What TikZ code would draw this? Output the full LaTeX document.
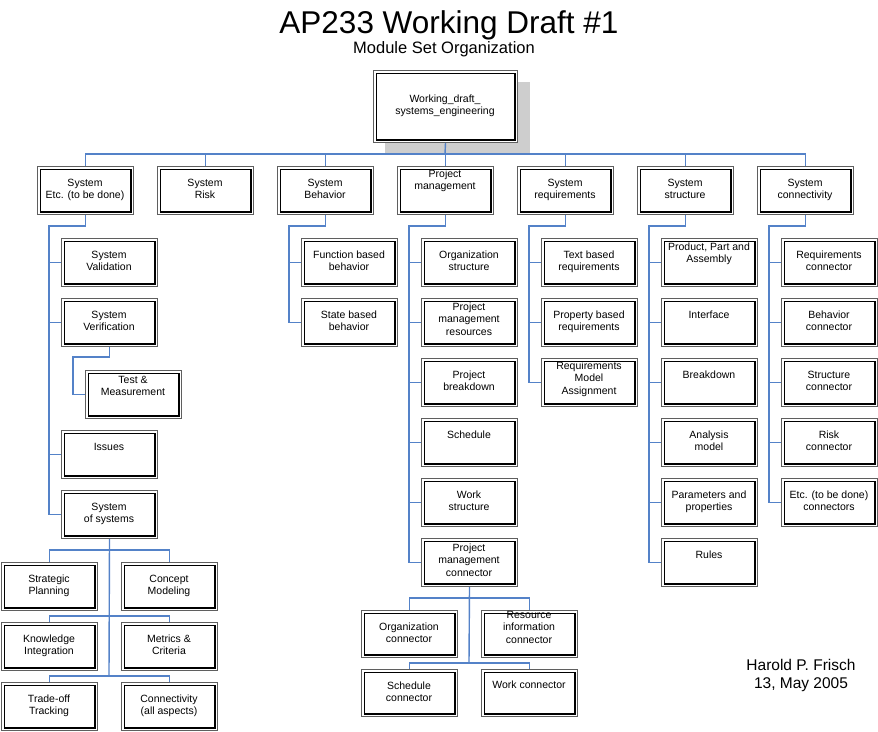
\documentclass[tikz,border=0pt]{standalone}
\usepackage{fontspec}
\setmainfont{Liberation Sans}
\definecolor{linkblue}{RGB}{84,130,200}
\definecolor{boxgray}{RGB}{95,95,95}
\definecolor{shadowgray}{RGB}{206,206,206}
\newcommand\mybox[5][20]{%
  \node[bx] (#2) at (#3,#4) {};
  \node[lbl] (#2t) at ({#3+48},{#4+#1-8.5}) {\rule{0pt}{8.5pt}#5};}
\begin{document}
\begin{tikzpicture}[x=1pt,y=-1pt,
  conn/.style={draw=linkblue,line width=1.4pt},
  bx/.style={rectangle, draw=boxgray, fill=white, line width=1pt,
    minimum width=96pt, minimum height=48pt, anchor=north west, inner sep=0pt,
    path picture={\draw[black,line width=1.2pt]
      ([shift={(2.6pt,-2.6pt)}]path picture bounding box.north west) rectangle
      ([shift={(-2.6pt,2.6pt)}]path picture bounding box.south east);}},
  lbl/.style={anchor=north, align=center, inner sep=0pt,
    font=\fontsize{10.5}{12.6}\selectfont}]
\useasboundingbox (0,0) rectangle (878,731);

% titles
\node[font=\fontsize{31.5}{35}\selectfont, anchor=base] (title) at (449,33) {AP233 Working Draft \#1};
\node[font=\fontsize{16.5}{19}\selectfont, anchor=base] (subtitle) at (444,53) {Module Set Organization};
\node[font=\fontsize{15.5}{18}\selectfont, anchor=base, align=center] (author) at (801,688) {Harold P. Frisch\\13, May 2005};

% root
\fill[shadowgray] (385,82) rectangle (530,153);
\node[bx, minimum width=144pt, minimum height=72pt] (root) at (373,70) {};
\node[lbl] (roott) at (445,93.5) {\rule{0pt}{8.5pt}Working\_draft\_\\systems\_engineering};

% top level
\mybox{t1}{37}{166}{System\\Etc. (to be done)}
\mybox{t2}{157}{166}{System\\Risk}
\mybox{t3}{277}{166}{System\\Behavior}
\mybox[11]{t4}{397}{166}{Project\\management}
\mybox{t5}{517}{166}{System\\requirements}
\mybox{t6}{637}{166}{System\\structure}
\mybox{t7}{757}{166}{System\\connectivity}

% System Etc. children
\mybox{val}{61}{238}{System\\Validation}
\mybox{ver}{61}{298}{System\\Verification}
\mybox[13]{test}{85}{370}{Test \&\\Measurement}
\mybox{iss}{61}{430}{Issues}
\mybox{sos}{61}{490}{System\\of systems}
\mybox{sp}{1}{562}{Strategic\\Planning}
\mybox{cm}{121}{562}{Concept\\Modeling}
\mybox{ki}{1}{622}{Knowledge\\Integration}
\mybox{mc}{121}{622}{Metrics \&\\Criteria}
\mybox{to}{1}{682}{Trade-off\\Tracking}
\mybox{ca}{121}{682}{Connectivity\\(all aspects)}

% Behavior children
\mybox{fb}{301}{238}{Function based\\behavior}
\mybox{sb}{301}{298}{State based\\behavior}

% Project management children
\mybox{os}{421}{238}{Organization\\structure}
\mybox[12]{pmr}{421}{298}{Project\\management\\resources}
\mybox{pb}{421}{358}{Project\\breakdown}
\mybox{sch}{421}{418}{Schedule}
\mybox{ws}{421}{478}{Work\\structure}
\mybox[13]{pmc}{421}{538}{Project\\management\\connector}
\begin{scope}[bx/.append style={minimum height=47pt}]
\mybox{oc}{361}{610}{Organization\\connector}
\mybox[8]{ric}{481}{610}{Resource\\information\\connector}
\mybox{sc}{361}{669}{Schedule\\connector}
\mybox[19]{wc}{481}{669}{Work connector}
\end{scope}

% Requirements children
\mybox{tbr}{541}{238}{Text based\\requirements}
\mybox{pbr}{541}{298}{Property based\\requirements}
\mybox[11]{rma}{541}{358}{Requirements\\Model\\Assignment}

% Structure children
\mybox[12]{ppa}{661}{238}{Product, Part and\\Assembly}
\mybox{intf}{661}{298}{Interface}
\mybox{brk}{661}{358}{Breakdown}
\mybox{am}{661}{418}{Analysis\\model}
\mybox{pp}{661}{478}{Parameters and\\properties}
\mybox{rules}{661}{538}{Rules}

% Connectivity children
\mybox{rc}{781}{238}{Requirements\\connector}
\mybox{bc}{781}{298}{Behavior\\connector}
\mybox{stc}{781}{358}{Structure\\connector}
\mybox{rkc}{781}{418}{Risk\\connector}
\mybox{etcc}{781}{478}{Etc. (to be done)\\connectors}

% ---------- connectors ----------
\coordinate (bus) at (445,154);
\draw[conn] (root.south) -- (bus);
\foreach \t in {t1,t2,t3,t4,t5,t6,t7} \draw[conn] (\t.north) |- (bus);

% spines
\coordinate (s1) at (49,226);
\draw[conn] (t1.south) |- (s1) |- (sos.west);
\foreach \c in {val,ver,iss} \draw[conn] (s1 |- \c.west) -- (\c.west);
\coordinate (tmc) at (73,357);
\draw[conn] (ver.south) |- (tmc) |- (test.west);

\coordinate (h1) at (109,550);
\coordinate (h2) at (109,616);
\coordinate (h3) at (109,676);
\draw[conn] (sos.south) -- (h3);
\draw[conn] (sp.north) |- (h1) -| (cm.north);
\draw[conn] (ki.north) |- (h2) -| (mc.north);
\draw[conn] (to.north) |- (h3) -| (ca.north);

\coordinate (s3) at (289,226);
\draw[conn] (t3.south) |- (s3) |- (sb.west);
\draw[conn] (s3 |- fb.west) -- (fb.west);

\coordinate (s4) at (409,226);
\draw[conn] (t4.south) |- (s4) |- (pmc.west);
\foreach \c in {os,pmr,pb,sch,ws} \draw[conn] (s4 |- \c.west) -- (\c.west);
\coordinate (g1) at (469,598);
\coordinate (g2) at (469,663);
\draw[conn] (pmc.south) -- (g2);
\draw[conn] (oc.north) |- (g1) -| (ric.north);
\draw[conn] (sc.north) |- (g2) -| (wc.north);

\coordinate (s5) at (529,226);
\draw[conn] (t5.south) |- (s5) |- (rma.west);
\foreach \c in {tbr,pbr} \draw[conn] (s5 |- \c.west) -- (\c.west);

\coordinate (s6) at (649,226);
\draw[conn] (t6.south) |- (s6) |- (rules.west);
\foreach \c in {ppa,intf,brk,am,pp} \draw[conn] (s6 |- \c.west) -- (\c.west);

\coordinate (s7) at (769,226);
\draw[conn] (t7.south) |- (s7) |- (etcc.west);
\foreach \c in {rc,bc,stc,rkc} \draw[conn] (s7 |- \c.west) -- (\c.west);
\end{tikzpicture}
\end{document}
